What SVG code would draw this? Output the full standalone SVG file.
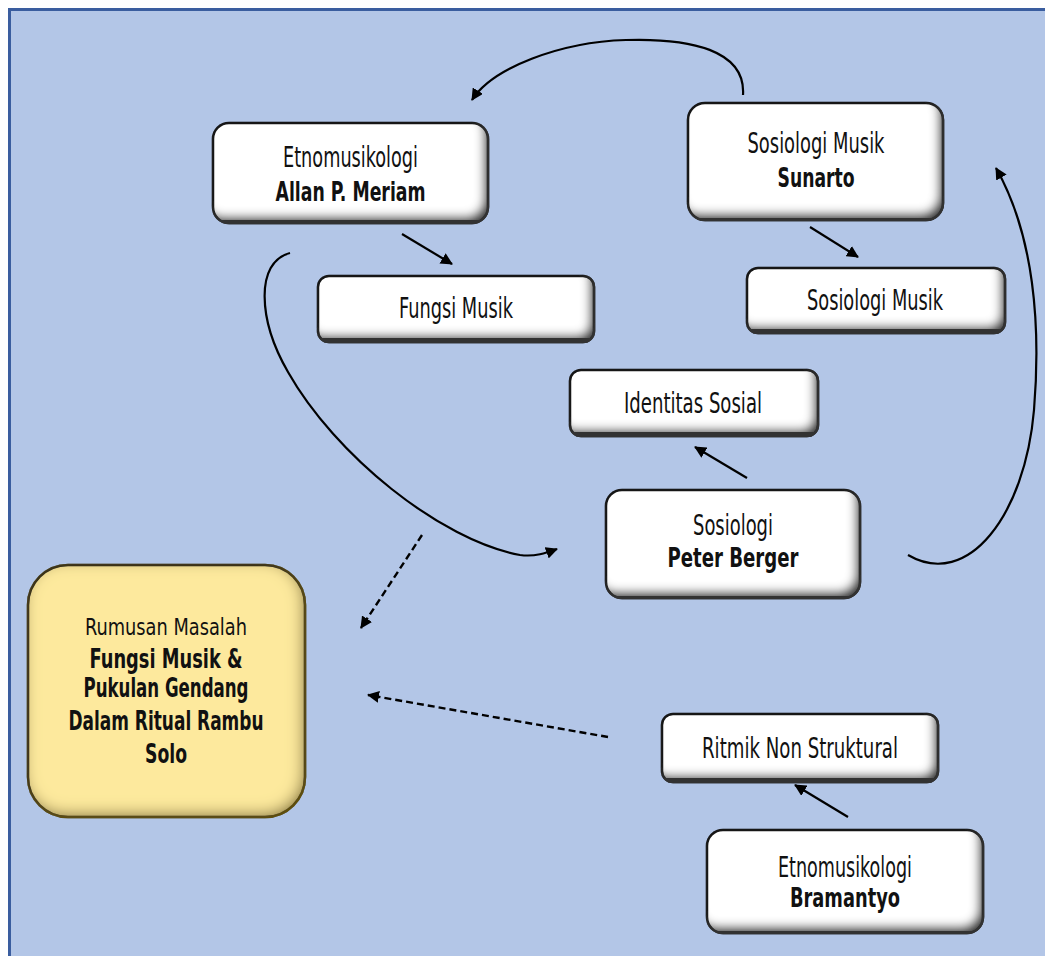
<svg xmlns="http://www.w3.org/2000/svg" width="1045" height="956" viewBox="0 0 1045 956">
<defs>
<style>
.box{fill:#ffffff;stroke:#1c1c1c;stroke-width:2.5;filter:url(#bevel)}
.ybox{fill:#fde99d;stroke:#1c1c1c;stroke-width:2.5;filter:url(#ybevel)}
text{font-family:"Liberation Sans Narrow","DejaVu Sans Condensed","Liberation Sans",sans-serif;fill:#111;text-anchor:middle}
.r{font-size:29px;font-weight:normal}
.b{font-size:27px;font-weight:bold}
.rs{font-size:23px;font-weight:normal}
.c{fill:none;stroke:#000;stroke-width:2.2}
.d{fill:none;stroke:#000;stroke-width:2.4;stroke-dasharray:7 4}
</style>
<filter id="bevel" x="-5%" y="-5%" width="110%" height="110%">
<feGaussianBlur in="SourceAlpha" stdDeviation="5" result="blur"/>
<feOffset in="blur" dx="-6" dy="-8" result="off"/>
<feComposite in="SourceAlpha" in2="off" operator="out" result="edge"/>
<feFlood flood-color="#333333" flood-opacity="1"/>
<feComposite in2="edge" operator="in" result="shadow"/>
<feMerge><feMergeNode in="SourceGraphic"/><feMergeNode in="shadow"/></feMerge>
</filter>
<filter id="ybevel" x="-5%" y="-5%" width="110%" height="110%">
<feGaussianBlur in="SourceAlpha" stdDeviation="8" result="blur"/>
<feOffset in="blur" dx="-3" dy="-4" result="off"/>
<feComposite in="SourceAlpha" in2="off" operator="out" result="edge"/>
<feFlood flood-color="#6e5c15" flood-opacity="1"/>
<feComposite in2="edge" operator="in" result="shadow"/>
<feMerge><feMergeNode in="SourceGraphic"/><feMergeNode in="shadow"/></feMerge>
</filter>
<marker id="ah" viewBox="0 0 12 12" refX="11" refY="6" markerWidth="12" markerHeight="12" markerUnits="userSpaceOnUse" orient="auto">
<path d="M0,0 L12,6 L0,12 Z" fill="#000"/>
</marker>
</defs>
<rect x="9.5" y="9.5" width="1040" height="950" fill="#b3c6e7" stroke="#3a5d9f" stroke-width="3"/>

<g id="connectors">
<path class="c" d="M743,95 C746,50 690,38 626,40 C560,42 492,68 472,100" marker-end="url(#ah)"/>
<line class="c" x1="402" y1="234" x2="452" y2="264" marker-end="url(#ah)"/>
<line class="c" x1="810" y1="227" x2="858" y2="257" marker-end="url(#ah)"/>
<line class="c" x1="747" y1="478" x2="695" y2="447" marker-end="url(#ah)"/>
<line class="c" x1="848" y1="817" x2="795" y2="785" marker-end="url(#ah)"/>
<path class="c" d="M290,253 C255,262 258,320 288,372 C335,455 440,540 520,555 C535,557 546,553 557,549" marker-end="url(#ah)"/>
<path class="c" d="M908,555 C968,590 1025,515 1034,410 C1041,325 1034,235 996,168" marker-end="url(#ah)"/>
<line class="d" x1="422" y1="535" x2="361" y2="628" marker-end="url(#ah)"/>
<line class="d" x1="608" y1="737" x2="368" y2="695" marker-end="url(#ah)"/>
</g>

<g id="node-meriam">
<rect class="box" x="213" y="123" width="275" height="100" rx="16"/>
<text class="r" x="350.5" y="167" textLength="135" lengthAdjust="spacingAndGlyphs">Etnomusikologi</text>
<text class="b" x="350.5" y="201" textLength="150" lengthAdjust="spacingAndGlyphs">Allan P. Meriam</text>
</g>
<g id="node-sunarto">
<rect class="box" x="688" y="103" width="255" height="117" rx="17"/>
<text class="r" x="816" y="153" textLength="137" lengthAdjust="spacingAndGlyphs">Sosiologi Musik</text>
<text class="b" x="816" y="187" textLength="77" lengthAdjust="spacingAndGlyphs">Sunarto</text>
</g>
<g id="node-fungsi">
<rect class="box" x="318" y="276" width="276" height="66" rx="11"/>
<text class="r" x="456" y="318" textLength="114" lengthAdjust="spacingAndGlyphs">Fungsi Musik</text>
</g>
<g id="node-sosmusik">
<rect class="box" x="747" y="268" width="258" height="65" rx="11"/>
<text class="r" x="875" y="310" textLength="136" lengthAdjust="spacingAndGlyphs">Sosiologi Musik</text>
</g>
<g id="node-identitas">
<rect class="box" x="570" y="370" width="248" height="66" rx="11"/>
<text class="r" x="693" y="413" textLength="138" lengthAdjust="spacingAndGlyphs">Identitas Sosial</text>
</g>
<g id="node-berger">
<rect class="box" x="606" y="490" width="254" height="108" rx="16"/>
<text class="r" x="733" y="535" textLength="80" lengthAdjust="spacingAndGlyphs">Sosiologi</text>
<text class="b" x="733" y="567" textLength="131" lengthAdjust="spacingAndGlyphs">Peter Berger</text>
</g>
<g id="node-rumusan">
<rect class="ybox" x="28" y="565" width="277" height="252" rx="40"/>
<text class="rs" x="166" y="635" textLength="162" lengthAdjust="spacingAndGlyphs">Rumusan Masalah</text>
<text class="b" x="166" y="668" textLength="153" lengthAdjust="spacingAndGlyphs">Fungsi Musik &amp;</text>
<text class="b" x="166" y="697" textLength="165" lengthAdjust="spacingAndGlyphs">Pukulan Gendang</text>
<text class="b" x="166" y="730" textLength="195" lengthAdjust="spacingAndGlyphs">Dalam Ritual Rambu</text>
<text class="b" x="166" y="763" textLength="42" lengthAdjust="spacingAndGlyphs">Solo</text>
</g>
<g id="node-ritmik">
<rect class="box" x="662" y="714" width="276" height="68" rx="11"/>
<text class="r" x="800" y="758" textLength="196" lengthAdjust="spacingAndGlyphs">Ritmik Non Struktural</text>
</g>
<g id="node-bramantyo">
<rect class="box" x="707" y="830" width="276" height="103" rx="16"/>
<text class="r" x="845" y="877" textLength="134" lengthAdjust="spacingAndGlyphs">Etnomusikologi</text>
<text class="b" x="845" y="907" textLength="110" lengthAdjust="spacingAndGlyphs">Bramantyo</text>
</g>
</svg>
